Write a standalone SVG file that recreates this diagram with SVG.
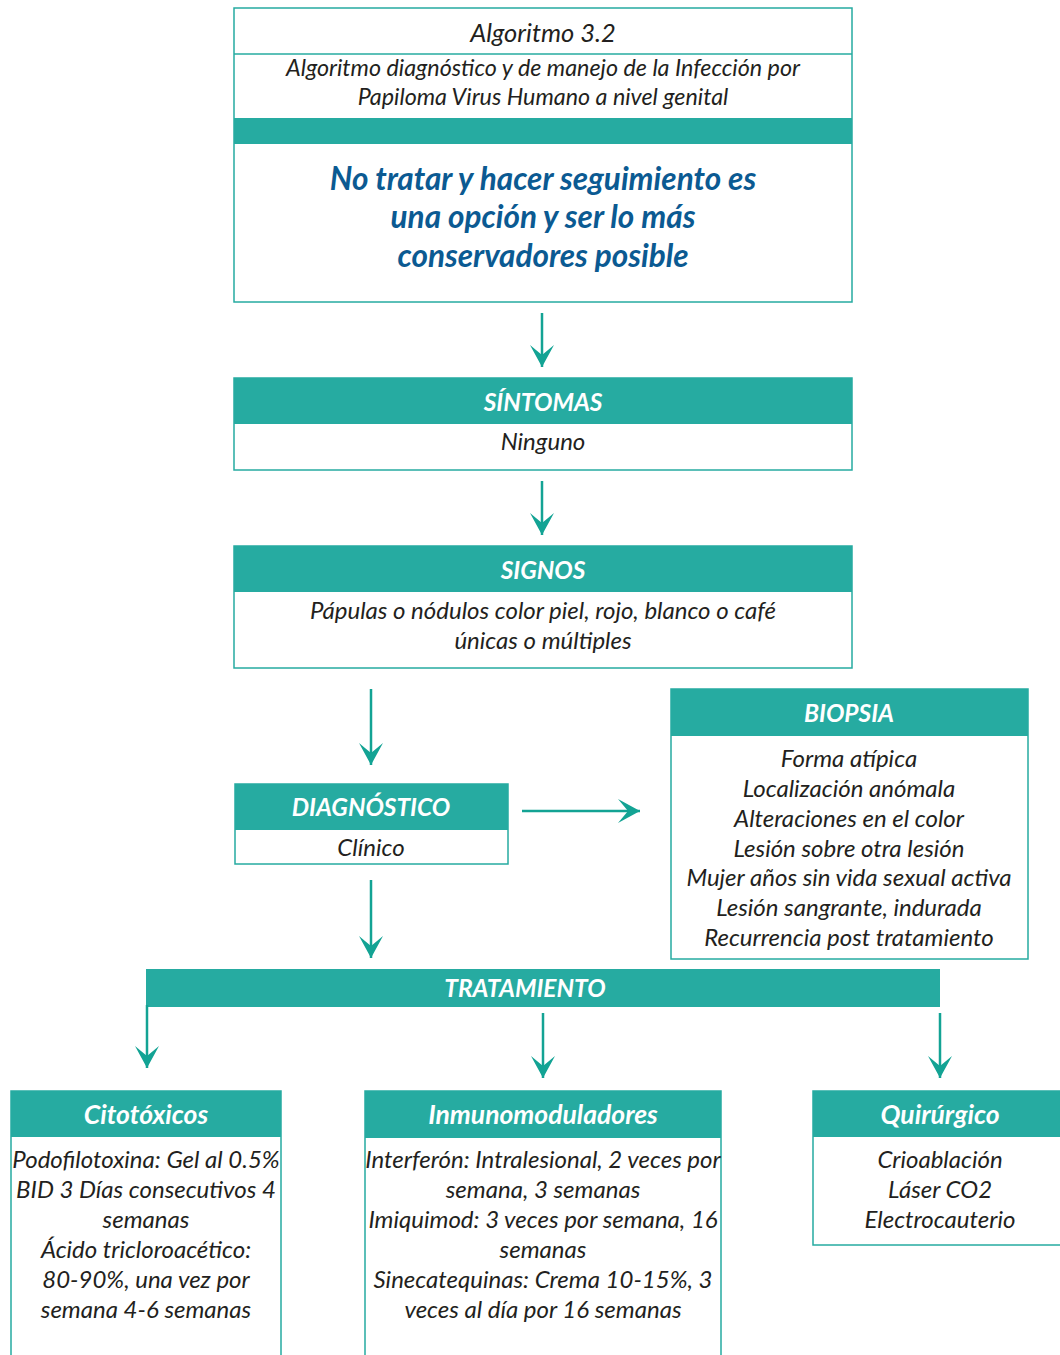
<svg xmlns="http://www.w3.org/2000/svg" width="1060" height="1355" viewBox="0 0 1060 1355">
  <style>
    .box { fill: #ffffff; stroke: #26aba1; stroke-width: 1.5; }
    .head { fill: #26aba1; }
    .ht { font-family: Lato, "Open Sans", sans-serif; font-style: italic; font-weight: bold; font-size: 24.5px; fill: #ffffff; text-anchor: middle; }
    .hl { font-size: 26.5px; }
    .bt { font-family: Lato, "Open Sans", sans-serif; font-style: italic; font-size: 24px; fill: #231f20; text-anchor: middle; }
    .note { font-family: Lato, "Open Sans", sans-serif; font-style: italic; font-weight: bold; font-size: 31.5px; fill: #0b5a92; text-anchor: middle; }
    .conn { stroke: #13a394; stroke-width: 2.5; fill: none; }
  </style>
  <defs>
    <marker id="arrow" viewBox="-24 -13 26 26" refX="0" refY="0" markerUnits="userSpaceOnUse" markerWidth="26" markerHeight="26" orient="auto">
      <path d="M0,0 L-22,-12 L-12,0 L-22,12 Z" fill="#13a394"/>
    </marker>
  </defs>

  <!-- Title block -->
  <g id="title">
    <rect class="box" x="234" y="8" width="618" height="294"/>
    <line x1="234" y1="54" x2="852" y2="54" stroke="#26aba1" stroke-width="1.5"/>
    <rect class="head" x="234" y="118" width="618" height="26"/>
    <text class="bt" x="543" y="42" style="font-size:25.5px">Algoritmo 3.2</text>
    <text class="bt" x="543" y="76" style="font-size:23.3px">Algoritmo diagnóstico y de manejo de la Infección por</text>
    <text class="bt" x="543" y="105" style="font-size:23.3px">Papiloma Virus Humano a nivel genital</text>
    <text class="note" x="543" y="190">No tratar y hacer seguimiento es</text>
    <text class="note" x="543" y="228">una opción y ser lo más</text>
    <text class="note" x="543" y="267">conservadores posible</text>
  </g>

  <!-- Symptoms -->
  <g id="sintomas">
    <rect class="box" x="234" y="378" width="618" height="92"/>
    <rect class="head" x="234" y="378" width="618" height="46"/>
    <text class="ht" x="543" y="411">SÍNTOMAS</text>
    <text class="bt" x="543" y="450">Ninguno</text>
  </g>

  <!-- Signs -->
  <g id="signos">
    <rect class="box" x="234" y="546" width="618" height="122"/>
    <rect class="head" x="234" y="546" width="618" height="46"/>
    <text class="ht" x="543" y="579">SIGNOS</text>
    <text class="bt" x="543" y="619">Pápulas o nódulos color piel, rojo, blanco o café</text>
    <text class="bt" x="543" y="649">únicas o múltiples</text>
  </g>

  <!-- Diagnosis -->
  <g id="diagnostico">
    <rect class="box" x="235" y="784" width="273" height="80"/>
    <rect class="head" x="235" y="784" width="273" height="46"/>
    <text class="ht" x="371" y="816">DIAGNÓSTICO</text>
    <text class="bt" x="371" y="856">Clínico</text>
  </g>

  <!-- Biopsy -->
  <g id="biopsia">
    <rect class="box" x="671" y="689" width="357" height="270"/>
    <rect class="head" x="671" y="689" width="357" height="47"/>
    <text class="ht" x="849" y="722">BIOPSIA</text>
    <text class="bt" x="849" y="767">Forma atípica</text>
    <text class="bt" x="849" y="797">Localización anómala</text>
    <text class="bt" x="849" y="827">Alteraciones en el color</text>
    <text class="bt" x="849" y="857">Lesión sobre otra lesión</text>
    <text class="bt" x="849" y="886">Mujer años sin vida sexual activa</text>
    <text class="bt" x="849" y="916">Lesión sangrante, indurada</text>
    <text class="bt" x="849" y="946">Recurrencia post tratamiento</text>
  </g>

  <!-- Treatment bar -->
  <g id="tratamiento">
    <rect class="head" x="146" y="969" width="794" height="38"/>
    <text class="ht" x="525" y="997">TRATAMIENTO</text>
  </g>

  <!-- Cytotoxics -->
  <g id="citotoxicos">
    <path class="box" d="M11,1360 V1091 H281 V1360"/>
    <rect class="head" x="11" y="1091" width="270" height="46"/>
    <text class="ht hl" x="146" y="1124">Citotóxicos</text>
    <text class="bt" x="146" y="1168">Podofilotoxina: Gel al 0.5%</text>
    <text class="bt" x="146" y="1198">BID 3 Días consecutivos 4</text>
    <text class="bt" x="146" y="1228">semanas</text>
    <text class="bt" x="146" y="1258">Ácido tricloroacético:</text>
    <text class="bt" x="146" y="1288">80-90%, una vez por</text>
    <text class="bt" x="146" y="1318">semana 4-6 semanas</text>
  </g>

  <!-- Immunomodulators -->
  <g id="inmunomoduladores">
    <path class="box" d="M365,1360 V1091 H721 V1360"/>
    <rect class="head" x="365" y="1091" width="356" height="47"/>
    <text class="ht hl" x="543" y="1124">Inmunomoduladores</text>
    <text class="bt" x="543" y="1168">Interferón: Intralesional, 2 veces por</text>
    <text class="bt" x="543" y="1198">semana, 3 semanas</text>
    <text class="bt" x="543" y="1228">Imiquimod: 3 veces por semana, 16</text>
    <text class="bt" x="543" y="1258">semanas</text>
    <text class="bt" x="543" y="1288">Sinecatequinas: Crema 10-15%, 3</text>
    <text class="bt" x="543" y="1318">veces al día por 16 semanas</text>
  </g>

  <!-- Surgical -->
  <g id="quirurgico">
    <rect class="box" x="813" y="1091" width="260" height="154"/>
    <rect class="head" x="813" y="1091" width="260" height="46"/>
    <text class="ht hl" x="940" y="1124">Quirúrgico</text>
    <text class="bt" x="940" y="1168">Crioablación</text>
    <text class="bt" x="940" y="1198">Láser CO2</text>
    <text class="bt" x="940" y="1228">Electrocauterio</text>
  </g>

  <!-- Connectors -->
  <g id="connectors">
    <line class="conn" x1="542" y1="313" x2="542" y2="367" marker-end="url(#arrow)"/>
    <line class="conn" x1="542" y1="481" x2="542" y2="535" marker-end="url(#arrow)"/>
    <line class="conn" x1="371" y1="689" x2="371" y2="765" marker-end="url(#arrow)"/>
    <line class="conn" x1="522" y1="811" x2="640" y2="811" marker-end="url(#arrow)"/>
    <line class="conn" x1="371" y1="880" x2="371" y2="958" marker-end="url(#arrow)"/>
    <line class="conn" x1="147" y1="1005" x2="147" y2="1068" marker-end="url(#arrow)"/>
    <line class="conn" x1="543" y1="1013" x2="543" y2="1078" marker-end="url(#arrow)"/>
    <line class="conn" x1="940" y1="1013" x2="940" y2="1078" marker-end="url(#arrow)"/>
  </g>
</svg>
